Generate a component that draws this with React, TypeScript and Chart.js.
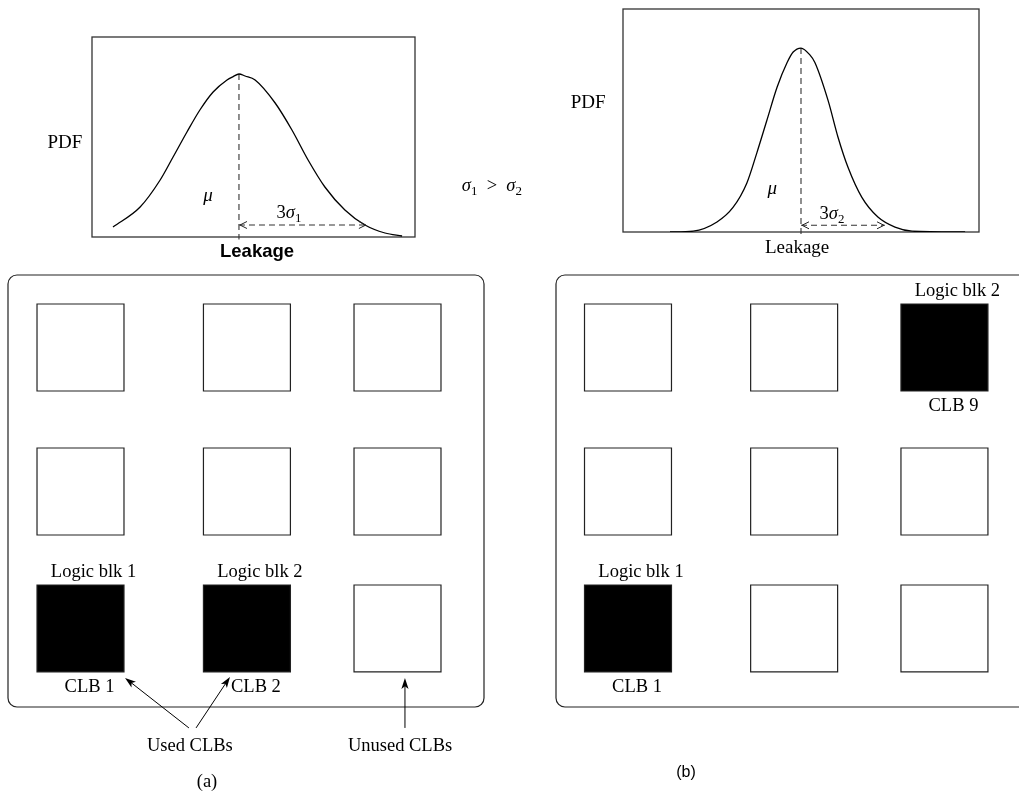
import React, { useEffect, useRef } from 'react';
import { Chart, registerables } from 'chart.js';

Chart.register(...registerables);

// ---------- PDF curves (leakage 0..100 across the box, pdf 0..1) ----------
const leakageWide = [6.5, 14.9, 21.1, 25.1, 29.4, 33.4, 37.5, 41.8, 43.7, 45.5, 47.4, 50.5, 56.7, 61.9, 66.9, 72.1, 78.3, 84.5, 90.7, 96.0];
const pdfWide = [0.05, 0.15, 0.285, 0.4, 0.525, 0.635, 0.725, 0.785, 0.802, 0.815, 0.805, 0.785, 0.67, 0.535, 0.385, 0.25, 0.135, 0.06, 0.02, 0.005];
const muWide = 45.5;
const peakWide = 0.815;
const threeSigmaWideEnd = 85.1;
const arrowWideY = 0.06;

const leakageNarrow = [13.2, 19.7, 26.4, 30.9, 34.8, 37.6, 40.4, 43.3, 46.1, 47.8, 50.0, 52.5, 53.9, 57.6, 60.4, 63.2, 67.1, 71.6, 76.4, 81.2, 96.1];
const pdfNarrow = [0, 0.004, 0.045, 0.11, 0.22, 0.355, 0.5, 0.65, 0.76, 0.807, 0.825, 0.794, 0.76, 0.59, 0.425, 0.29, 0.155, 0.067, 0.022, 0.004, 0];
const muNarrow = 50;
const peakNarrow = 0.825;
const threeSigmaNarrowEnd = 73.6;
const arrowNarrowY = 0.03;

// ---------- CLB grid ----------
const clbColumns = [1, 2.05, 3];
const clbRows = [1, 2.025, 3];
// row-major, top row first
const usedA = [false, false, false, false, false, false, true, true, false];
const usedB = [false, false, true, false, false, false, true, false, false];
const cellLabelsA = [
  { index: 6, above: 'Logic blk 1', below: 'CLB 1' },
  { index: 7, above: 'Logic blk 2', below: 'CLB 2' },
];
const cellLabelsB = [
  { index: 2, above: 'Logic blk 2', below: 'CLB 9' },
  { index: 6, above: 'Logic blk 1', below: 'CLB 1' },
];

const SERIF = '"Liberation Serif", "Times New Roman", serif';
const SANS = '"Liberation Sans", Arial, sans-serif';

type Part = { t: string; it?: boolean; sub?: boolean };

function drawRich(ctx: CanvasRenderingContext2D, parts: Part[], cx: number, cy: number, size: number) {
  const fontFor = (p: Part) => `${p.it ? 'italic ' : ''}${p.sub ? size * 0.7 : size}px ${SERIF}`;
  let total = 0;
  const widths = parts.map((p) => {
    ctx.font = fontFor(p);
    const w = ctx.measureText(p.t).width;
    total += w;
    return w;
  });
  let x = cx - total / 2;
  ctx.textAlign = 'left';
  ctx.textBaseline = 'alphabetic';
  const base = cy + size * 0.33;
  parts.forEach((p, i) => {
    ctx.font = fontFor(p);
    ctx.fillText(p.t, x, p.sub ? base + size * 0.2 : base);
    x += widths[i];
  });
}

function drawText(ctx: CanvasRenderingContext2D, text: string, x: number, y: number, font: string) {
  ctx.font = font;
  ctx.textAlign = 'center';
  ctx.textBaseline = 'middle';
  ctx.fillStyle = '#000';
  ctx.fillText(text, x, y);
}

type PdfOpts = {
  leak: number[];
  pdf: number[];
  mu: number;
  peak: number;
  arrowEnd: number;
  arrowY: number;
  padding: { left: number; top: number; right: number; bottom: number };
  labels: (ctx: CanvasRenderingContext2D, px: (v: number) => number, py: (v: number) => number) => void;
};

function pdfConfig(o: PdfOpts): any {
  const decor = {
    id: 'pdfDecor',
    beforeDatasetsDraw(chart: any) {
      const { ctx, chartArea: a } = chart;
      ctx.save();
      ctx.strokeStyle = '#333';
      ctx.lineWidth = 1.3;
      ctx.strokeRect(a.left, a.top, a.right - a.left, a.bottom - a.top);
      ctx.restore();
    },
    afterDraw(chart: any) {
      const { ctx } = chart;
      const px = (v: number) => chart.scales.x.getPixelForValue(v);
      const py = (v: number) => chart.scales.y.getPixelForValue(v);
      ctx.save();
      const y = py(o.arrowY);
      const x0 = px(o.mu);
      const x1 = px(o.arrowEnd);
      ctx.strokeStyle = '#222';
      ctx.lineWidth = 1;
      ctx.beginPath();
      ctx.moveTo(x0 + 8, y - 3.5);
      ctx.lineTo(x0 + 1, y);
      ctx.lineTo(x0 + 8, y + 3.5);
      ctx.moveTo(x1 - 8, y - 3.5);
      ctx.lineTo(x1 - 1, y);
      ctx.lineTo(x1 - 8, y + 3.5);
      ctx.stroke();
      ctx.fillStyle = '#000';
      o.labels(ctx, px, py);
      ctx.restore();
    },
  };
  return {
    type: 'scatter',
    data: {
      datasets: [
        {
          data: o.leak.map((x, i) => ({ x, y: o.pdf[i] })),
          showLine: true,
          borderColor: '#000',
          borderWidth: 1.3,
          pointRadius: 0,
          cubicInterpolationMode: 'monotone',
          fill: false,
        },
        {
          data: [
            { x: o.mu, y: o.peak },
            { x: o.mu, y: -0.012 },
          ],
          showLine: true,
          borderColor: '#333',
          borderWidth: 1.1,
          borderDash: [6, 4],
          pointRadius: 0,
          clip: false,
        },
        {
          data: [
            { x: o.mu, y: o.arrowY },
            { x: o.arrowEnd, y: o.arrowY },
          ],
          showLine: true,
          borderColor: '#333',
          borderWidth: 1.1,
          borderDash: [6, 4],
          pointRadius: 0,
          clip: false,
        },
      ],
    },
    options: {
      animation: false,
      responsive: false,
      devicePixelRatio: 1,
      events: [],
      layout: { padding: o.padding, autoPadding: false },
      scales: {
        x: { type: 'linear', display: false, min: 0, max: 100 },
        y: { type: 'linear', display: false, min: 0, max: 1 },
      },
      plugins: { legend: { display: false }, tooltip: { enabled: false } },
    },
    plugins: [decor],
  };
}

function drawArrow(ctx: CanvasRenderingContext2D, x0: number, y0: number, x1: number, y1: number) {
  const ang = Math.atan2(y1 - y0, x1 - x0);
  const len = 11;
  const hw = 3.6;
  ctx.beginPath();
  ctx.moveTo(x0, y0);
  ctx.lineTo(x1 - Math.cos(ang) * 6, y1 - Math.sin(ang) * 6);
  ctx.stroke();
  const bx = x1 - Math.cos(ang) * len;
  const by = y1 - Math.sin(ang) * len;
  const nx = x1 - Math.cos(ang) * len * 0.75;
  const ny = y1 - Math.sin(ang) * len * 0.75;
  ctx.beginPath();
  ctx.moveTo(x1, y1);
  ctx.lineTo(bx - Math.sin(ang) * hw, by + Math.cos(ang) * hw);
  ctx.lineTo(nx, ny);
  ctx.lineTo(bx + Math.sin(ang) * hw, by - Math.cos(ang) * hw);
  ctx.closePath();
  ctx.fill();
}

type GridOpts = {
  used: boolean[];
  cellLabels: { index: number; above: string; below: string }[];
  padding: { left: number; top: number; right: number; bottom: number };
  xRange: [number, number];
  yRange: [number, number];
  extras: (ctx: CanvasRenderingContext2D, px: (v: number) => number, py: (v: number) => number) => void;
};

function gridConfig(o: GridOpts): any {
  const cells = o.used.map((u, i) => ({ x: clbColumns[i % 3], y: clbRows[Math.floor(i / 3)], used: u }));
  const half = 43.5;
  const decor = {
    id: 'gridDecor',
    beforeDatasetsDraw(chart: any) {
      const { ctx, chartArea: a } = chart;
      ctx.save();
      ctx.strokeStyle = '#222';
      ctx.lineWidth = 1.2;
      ctx.beginPath();
      (ctx as any).roundRect(a.left, a.top, a.right - a.left, a.bottom - a.top, 9);
      ctx.stroke();
      ctx.restore();
    },
    afterDraw(chart: any) {
      const { ctx } = chart;
      const px = (v: number) => chart.scales.x.getPixelForValue(v);
      const py = (v: number) => chart.scales.y.getPixelForValue(v);
      ctx.save();
      ctx.fillStyle = '#000';
      o.cellLabels.forEach((l) => {
        const c = cells[l.index];
        const cx = px(c.x);
        const cy = py(c.y);
        drawText(ctx, l.above, cx + 13, cy - half - 13, `18.5px ${SERIF}`);
        drawText(ctx, l.below, cx + 9, cy + half + 15, `18.5px ${SERIF}`);
      });
      ctx.strokeStyle = '#000';
      ctx.lineWidth = 1;
      o.extras(ctx, px, py);
      ctx.restore();
    },
  };
  return {
    type: 'scatter',
    data: {
      datasets: [
        {
          data: cells.map((c) => ({ x: c.x, y: c.y })),
          showLine: false,
          pointStyle: 'rect',
          pointRadius: 61.5,
          pointBackgroundColor: cells.map((c) => (c.used ? '#000' : '#fff')),
          pointBorderColor: '#222',
          pointBorderWidth: 1.2,
        },
      ],
    },
    options: {
      animation: false,
      responsive: false,
      devicePixelRatio: 1,
      events: [],
      layout: { padding: o.padding, autoPadding: false },
      scales: {
        x: { type: 'linear', display: false, min: o.xRange[0], max: o.xRange[1] },
        y: { type: 'linear', display: false, min: o.yRange[0], max: o.yRange[1], reverse: true },
      },
      plugins: { legend: { display: false }, tooltip: { enabled: false } },
    },
    plugins: [decor],
  };
}

function ChartCanvas({ left, top, width, height, build }: { left: number; top: number; width: number; height: number; build: () => any }) {
  const ref = useRef<HTMLCanvasElement>(null);
  useEffect(() => {
    const chart = new Chart(ref.current as HTMLCanvasElement, build());
    return () => chart.destroy();
  }, []);
  return (
    <canvas
      ref={ref}
      width={width}
      height={height}
      style={{ position: 'absolute', left, top, width, height, display: 'block' }}
    />
  );
}

export default function App() {
  const leftPdf = () =>
    pdfConfig({
      leak: leakageWide,
      pdf: pdfWide,
      mu: muWide,
      peak: peakWide,
      arrowEnd: threeSigmaWideEnd,
      arrowY: arrowWideY,
      padding: { left: 92, top: 37, right: 145, bottom: 25 },
      labels: (ctx, px, py) => {
        drawText(ctx, 'PDF', px(-8.4), py(0.47), `19px ${SERIF}`);
        drawText(ctx, 'Leakage', px(51.1), py(-0.075), `bold 18.5px ${SANS}`);
        drawRich(ctx, [{ t: 'μ', it: true }], px(35.9), py(0.21), 19);
        drawRich(ctx, [{ t: '3' }, { t: 'σ', it: true }, { t: '1', sub: true }], px(61), py(0.125), 18.5);
        drawRich(
          ctx,
          [{ t: 'σ', it: true }, { t: '1', sub: true }, { t: '\u2002>\u2002' }, { t: 'σ', it: true }, { t: '2', sub: true }],
          px(123.8),
          py(0.26),
          18.5
        );
      },
    });

  const rightPdf = () =>
    pdfConfig({
      leak: leakageNarrow,
      pdf: pdfNarrow,
      mu: muNarrow,
      peak: peakNarrow,
      arrowEnd: threeSigmaNarrowEnd,
      arrowY: arrowNarrowY,
      padding: { left: 83, top: 9, right: 40, bottom: 30 },
      labels: (ctx, px, py) => {
        drawText(ctx, 'PDF', px(-9.8), py(0.578), `19px ${SERIF}`);
        drawText(ctx, 'Leakage', px(48.9), py(-0.072), `19px ${SERIF}`);
        drawRich(ctx, [{ t: 'μ', it: true }], px(41.9), py(0.2), 19);
        drawRich(ctx, [{ t: '3' }, { t: 'σ', it: true }, { t: '2', sub: true }], px(58.7), py(0.085), 18.5);
      },
    });

  const leftGrid = () =>
    gridConfig({
      used: usedA,
      cellLabels: cellLabelsA,
      padding: { left: 8, top: 13, right: 36, bottom: 95 },
      xRange: [0.5426, 3.5457],
      yRange: [0.484, 3.559],
      extras: (ctx, px, py) => {
        drawArrow(ctx, px(1.684), py(3.708), px(1.281), py(3.352));
        drawArrow(ctx, px(1.729), py(3.708), px(1.943), py(3.345));
        drawArrow(ctx, px(3.047), py(3.708), px(3.047), py(3.352));
        drawText(ctx, 'Used CLBs', px(1.69), py(3.836), `18.5px ${SERIF}`);
        drawText(ctx, 'Unused CLBs', px(3.016), py(3.836), `18.5px ${SERIF}`);
        drawText(ctx, '(a)', px(1.798), py(4.092), `18.5px ${SERIF}`);
      },
    });

  const rightGrid = () =>
    gridConfig({
      used: usedB,
      cellLabels: cellLabelsB,
      padding: { left: 16, top: 13, right: 19, bottom: 95 },
      xRange: [0.545, 3.547],
      yRange: [0.484, 3.559],
      extras: (ctx, px, py) => {
        drawText(ctx, '(b)', px(1.367), py(4.028), `16px ${SANS}`);
      },
    });

  return (
    <div style={{ position: 'absolute', left: 0, top: 0, width: 1019, height: 802, overflow: 'hidden', background: '#fff' }}>
      <ChartCanvas left={0} top={0} width={560} height={262} build={leftPdf} />
      <ChartCanvas left={540} top={0} width={479} height={262} build={rightPdf} />
      <ChartCanvas left={0} top={262} width={520} height={540} build={leftGrid} />
      <ChartCanvas left={540} top={262} width={510} height={540} build={rightGrid} />
    </div>
  );
}
